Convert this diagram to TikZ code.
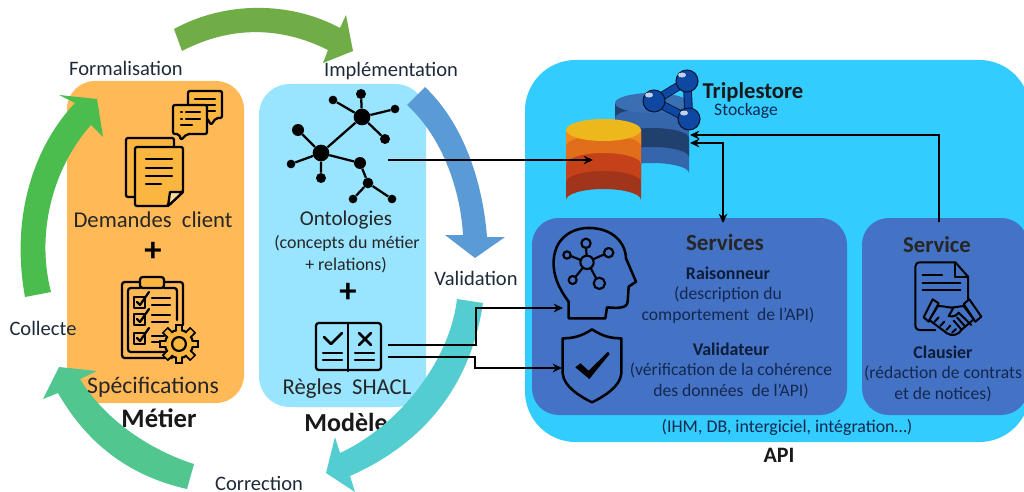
\documentclass[tikz,border=0pt]{standalone}
\usepackage{fontspec}
\setmainfont{Carlito}
\usetikzlibrary{arrows.meta}
\definecolor{orangebox}{HTML}{FFB957}
\definecolor{iconfill}{HTML}{FBB63F}
\definecolor{modelbox}{HTML}{99E4FF}
\definecolor{apibox}{HTML}{33CCFF}
\definecolor{svcbox}{HTML}{4472C4}
\definecolor{txtdark}{HTML}{1E2A3A}
\definecolor{txtnavy}{HTML}{14284F}
\definecolor{arrA}{HTML}{70AD47}
\definecolor{arrB}{HTML}{5B9BD5}
\definecolor{arrC}{HTML}{53CDCF}
\definecolor{arrD}{HTML}{51C68F}
\definecolor{arrE}{HTML}{4BBD4F}
\definecolor{sph}{HTML}{0F48A3}
\definecolor{dbblue}{HTML}{3566AB}
\definecolor{dbdark}{HTML}{20416E}
\definecolor{dbtop}{HTML}{3A6FB3}
\definecolor{dbora}{HTML}{A0351B}
\definecolor{dborb}{HTML}{C4411A}
\definecolor{dborc}{HTML}{E16E1B}
\definecolor{dbord}{HTML}{F08A1C}
\definecolor{dbore}{HTML}{EDB81C}
\tikzset{
  x=0.75pt,y=-0.75pt,
  lab/.style={font=\fontsize{15.4}{17}\selectfont,text=txtdark,inner sep=0pt,anchor=center},
  big/.style={font=\fontsize{17}{19}\selectfont,text=black!85,inner sep=0pt,anchor=center},
  mid/.style={font=\fontsize{15.8}{18}\selectfont,text=black!85,inner sep=0pt,anchor=center},
  small/.style={font=\fontsize{13.4}{15}\selectfont,text=black!85,inner sep=0pt,anchor=center},
  svc/.style={font=\fontsize{13.2}{15}\selectfont,text=txtnavy,inner sep=0pt,anchor=center},
  svcb/.style={font=\bfseries\fontsize{13.4}{15}\selectfont,text=txtnavy!70!black,inner sep=0pt,anchor=center},
  head/.style={font=\bfseries\fontsize{17.3}{19}\selectfont,text=black!85,inner sep=0pt,anchor=center},
  title/.style={font=\bfseries\fontsize{20}{22}\selectfont,text=black!90,inner sep=0pt,anchor=center},
  plus/.style={font=\bfseries\fontsize{26}{26}\selectfont,text=black,inner sep=0pt,anchor=center},
  link/.style={line width=1.2pt,black,-{Stealth[length=7pt,width=6.5pt]}},
  dlink/.style={line width=1.2pt,black,{Stealth[length=7pt,width=6.5pt]}-{Stealth[length=7pt,width=6.5pt]}},
  icon/.style={line width=1.7pt,black,line cap=round,line join=round},
  iconw/.style={icon,fill=iconfill},
  gnode/.style={circle,fill=black,inner sep=0pt},
  gedge/.style={line width=1.7pt,black},
  sphere/.style={circle,fill=sph,draw=black!70!sph,line width=.8pt,minimum size=16.5pt,inner sep=0pt},
}
\begin{document}
\begin{tikzpicture}
\clip (0,0) rectangle (1024,492);
\fill[white] (0,0) rectangle (1024,492);
% boxes
\fill[orangebox,rounded corners=21pt] (67,81) rectangle (244,403);
\fill[modelbox,rounded corners=23pt] (259,84) rectangle (426,407);
\fill[apibox,rounded corners=38pt] (525,60) rectangle (1030,442);
\fill[svcbox,rounded corners=20pt] (532,218) rectangle (847,415);
\fill[svcbox,rounded corners=20pt] (862,218) rectangle (1028,415);

% labels under arrows
\node[title] (metier) at (159,418) {Métier};
\node[title,font=\bfseries\fontsize{19.5}{22}\selectfont] (modele) at (346,422) {Modèle};
\node[title,font=\bfseries\fontsize{16.5}{18}\selectfont] (api) at (779,455) {API};

% arrows of the cycle
\fill[arrA] (174,29) .. controls (225,1) and (290,1) .. (340,28) -- (346,15) -- (353,51) -- (323,63) -- (328,50) .. controls (280,26) and (230,26) .. (182,51) -- cycle;
\fill[arrB] (425,87) .. controls (465,125) and (483,185) .. (487,237) -- (505,237) -- (475,258) -- (445,235) -- (463,235) .. controls (460,185) and (440,135) .. (407,105) -- cycle;
\fill[arrC] (483,303) .. controls (470,390) and (420,445) .. (350,476) -- (355,492) -- (326,473) -- (335,437) -- (340,453) .. controls (400,425) and (450,360) .. (457,299) -- cycle;
\fill[arrD] (187,489) .. controls (125,475) and (85,440) .. (58,393) -- (43,399) -- (59,367) -- (97,371) -- (80,379) .. controls (105,420) and (150,450) .. (194,464) -- cycle;
\fill[arrE] (25,297) .. controls (10,215) and (35,145) .. (75,103) -- (59,95) -- (97,99) -- (103,137) -- (91,125) .. controls (55,165) and (35,230) .. (51,292) -- cycle;

% text
\node[lab] (formal) at (126,68) {Formalisation};
\node[lab] (implem) at (391,71) {Implémentation};
\node[lab] (collec) at (43,328) {Collecte};
\node[lab] (valid) at (476,278) {Validation};
\node[lab] (correc) at (259,483.5) {Correction};
\node[big] (demandes) at (153,220) {Demandes\ \ client};
\node[plus] (plusa) at (153,252) {+};
\node[big,font=\fontsize{17.8}{19}\selectfont] (specs) at (153,387) {Spécifications};
\node[mid] (onto) at (346,219.5) {Ontologies};
\node[small] (ontob) at (347,243) {(concepts du métier};
\node[small] (ontoc) at (346,265) {+ relations)};
\node[plus] (plusb) at (348,293) {+};
\node[big] (regles) at (347,389) {Règles\ \ SHACL};
\node[title,font=\bfseries\fontsize{17}{19}\selectfont] (triple) at (753,92) {Triplestore};
\node[svc] (stock) at (746,111) {Stockage};
\node[head] (services) at (725,242) {Services};
\node[head,font=\bfseries\fontsize{17}{19}\selectfont] (service) at (937,245) {Service};
\node[svcb] (rais) at (728,273) {Raisonneur};
\node[svc] (raisb) at (728,294) {(description du};
\node[svc] (raisc) at (728,315) {comportement\ \ de l’API)};
\node[svcb] (vali) at (731,349) {Validateur};
\node[svc] (valib) at (731,370) {(vérification de la cohérence};
\node[svc] (valic) at (731,391) {des données\ \ de l’API)};
\node[svcb] (claus) at (943,352) {Clausier};
\node[svc] (clausb) at (943,373) {(rédaction de contrats};
\node[svc] (clausc) at (943,394) {et de notices)};
\node[svc,font=\fontsize{13.4}{15}\selectfont] (ihm) at (787,427) {(IHM, DB, intergiciel, intégration…)};

% blue database
\fill[dbblue] (615,103) -- (615,173) arc[start angle=180,end angle=360,x radius=37,y radius=10] -- (689,103) -- cycle;
\fill[dbdark] (615,103) -- (615,118) arc[start angle=180,end angle=360,x radius=37,y radius=10] -- (689,103) -- cycle;
\fill[dbdark] (615,138) arc[start angle=180,end angle=360,x radius=37,y radius=10] -- (689,157) arc[start angle=360,end angle=180,x radius=37,y radius=10] -- cycle;
\fill[dbtop] (652,103) ellipse[x radius=37,y radius=10];
% orange database
\fill[dbora] (566,130) -- (566,200) arc[start angle=180,end angle=360,x radius=37.5,y radius=11] -- (641,130) -- cycle;
\fill[dborb] (566,130) -- (566,182) arc[start angle=180,end angle=360,x radius=37.5,y radius=11] -- (641,130) -- cycle;
\fill[dborc] (566,130) -- (566,164) arc[start angle=180,end angle=360,x radius=37.5,y radius=11] -- (641,130) -- cycle;
\fill[dbord] (566,130) -- (566,146) arc[start angle=180,end angle=360,x radius=37.5,y radius=11] -- (641,130) -- cycle;
\fill[dbore] (603.5,130) ellipse[x radius=37.5,y radius=11];
% triple store logo
\draw[black!60!sph,line width=6.5pt,line join=round] (654,101) -- (687,81) -- (689,119) -- cycle;
\draw[sph,line width=5pt,line join=round] (654,101) -- (687,81) -- (689,119) -- cycle;
\node[sphere] (sa) at (654,101) {};
\node[sphere] (sb) at (687,81) {};
\node[sphere] (sc) at (689,119) {};
\fill[white!75!sph] (649,95) ellipse[x radius=4,y radius=2.5];
\fill[white!75!sph] (682,75) ellipse[x radius=4,y radius=2.5];
\fill[white!75!sph] (684,113) ellipse[x radius=4,y radius=2.5];

% chat bubbles
\draw[iconw,rounded corners=1.5pt] (188,91) -- (222,91) -- (222,118) -- (216,118) -- (211,125) -- (207,118) -- (188,118) -- cycle;
\draw[icon] (195,99) -- (215,99) (200,105) -- (215,105) (207,111) -- (215,111);
\draw[iconw,rounded corners=1.5pt] (173,105) -- (207,105) -- (207,134) -- (187,134) -- (181,140) -- (179,134) -- (173,134) -- cycle;
\draw[icon] (181,112) -- (182,112) (186,112) -- (200,112) (181,119) -- (182,119) (186,119) -- (200,119) (181,125) -- (192,125);
% documents
\draw[iconw,rounded corners=1.5pt] (126,138) -- (174,138) -- (174,197) -- (126,197) -- cycle;
\draw[iconw,rounded corners=1.5pt] (135,147) -- (183,147) -- (183,192) -- (168,206) -- (135,206) -- cycle;
\draw[icon,fill=iconfill!50!white] (183,192) -- (170,192) -- (168,206) -- cycle;
\draw[icon] (146,159) -- (172,159) (146,168) -- (172,168) (146,176) -- (172,176) (146,184) -- (161,184);
% clipboard
\draw[icon,rounded corners=2pt] (140,282) -- (122,282) -- (122,358) -- (172,358);
\draw[icon,rounded corners=2pt] (164,282) -- (183,282) -- (183,325);
\draw[icon,rounded corners=2pt] (140,288) -- (128,288) -- (128,352) -- (166,352);
\draw[icon,rounded corners=2pt] (164,288) -- (177,288) -- (177,320);
\draw[iconw,rounded corners=2pt] (140,277) rectangle (164,288);
\foreach \yy in {302,319,338}{
  \draw[icon] (134,\yy-5) rectangle (145,\yy+6);
  \draw[icon] (137,\yy) -- (140,\yy+3) -- (149,\yy-10);
}
\draw[icon] (152,298) -- (170,298) (152,305) -- (170,305) (152,315) -- (170,315) (152,322) -- (168,322) (152,336) -- (164,336) (152,342) -- (160,342);
% gear
\node[inner sep=0pt,minimum size=0pt] (gearc) at (179,344) {};
\foreach \a in {0,45,...,315}{
  \fill[black] (gearc) ++(\a:9pt) ++(\a+90:3.2pt) -- ++(\a-90:6.4pt) -- ++(\a:6pt) -- ++(\a+90:6.4pt) -- cycle;
}
\foreach \a in {0,45,...,315}{
  \fill[iconfill] (gearc) ++(\a:9pt) ++(\a+90:1.8pt) -- ++(\a-90:3.6pt) -- ++(\a:4.8pt) -- ++(\a+90:3.6pt) -- cycle;
}
\draw[line width=1.6pt,black,fill=iconfill] (gearc) circle[radius=10.5pt];
\foreach \a in {0,45,...,315}{
  \fill[iconfill] (gearc) ++(\a:8.5pt) ++(\a+90:1.8pt) -- ++(\a-90:3.6pt) -- ++(\a:4pt) -- ++(\a+90:3.6pt) -- cycle;
}
\draw[line width=1.6pt,black] (gearc) circle[radius=5.2pt];

% molecule
\node[gnode,minimum size=12.5pt] (hubA) at (362,117) {};
\node[gnode,minimum size=12.5pt] (hubB) at (321,153) {};
\node[gnode,minimum size=6.5pt] (ga) at (333,100) {};
\node[gnode,minimum size=7.5pt] (gb) at (361,94) {};
\node[gnode,minimum size=6.5pt] (gc) at (395,109) {};
\node[gnode,minimum size=7.5pt] (gd) at (385,139) {};
\node[gnode,minimum size=9pt] (ge) at (298,130) {};
\node[gnode,minimum size=6.5pt] (gf) at (291,164) {};
\node[gnode,minimum size=7.5pt] (gg) at (321,178) {};
\node[gnode,minimum size=9pt] (gh) at (360,163) {};
\node[gnode,minimum size=8pt] (gi) at (368,183) {};
\node[gnode,minimum size=6.5pt] (gj) at (353,199) {};
\node[gnode,minimum size=6.5pt] (gk) at (392,199) {};
\draw[gedge] (hubA)--(hubB) (hubA)--(ga) (hubA)--(gb) (hubA)--(gc) (hubA)--(gd)
  (hubB)--(ge) (hubB)--(gf) (hubB)--(gg) (hubB)--(gh) (gh)--(gi) (gi)--(gj) (gi)--(gk);

% book
\draw[icon,rounded corners=2pt] (316,323) rectangle (381,370);
\draw[icon] (348,323) -- (348,371);
\draw[line width=2pt,black,line cap=round,line join=round] (324,337) -- (331,344) -- (342,333);
\draw[line width=2pt,black,line cap=round] (359,333) -- (371,345) (371,333) -- (359,345);
\draw[icon] (323,353) -- (342,353) (323,360) -- (342,360) (355,353) -- (374,353) (355,360) -- (374,360);

% connectors
\coordinate (fromOnto) at (388,160);
\coordinate (toOrange) at (593,160);
\coordinate (fromRulesA) at (388,345);
\coordinate (fromRulesB) at (388,357);
\coordinate (toBrain) at (563,308);
\coordinate (toShield) at (562,368);
\coordinate (storeA) at (690,135);
\coordinate (storeB) at (690,143);
\coordinate (svcA) at (723,223);
\coordinate (svcB) at (939,222);
\draw[link] (fromOnto) -- (toOrange);
\draw[link] (fromRulesA) -| (476,308) -- (toBrain);
\draw[link] (fromRulesB) -| (475,368) -- (toShield);
\draw[dlink] (storeB) -| (svcA);
\draw[link] (svcB) |- (storeA);

% head with network
\begin{scope}[shift={(512,230)},x=.25pt,y=-.25pt]
\draw[icon,line width=1.9pt] (170,265) -- (170,215) .. controls (140,175) and (122,135) .. (125,90) .. controls (130,20) and (185,-8) .. (235,-6) .. controls (300,-4) and (340,35) .. (342,85) -- (372,155) -- (350,170) -- (347,215) .. controls (345,235) and (320,235) .. (285,232) -- (280,265) -- cycle;
\draw[icon,line width=1.6pt] (225,97) circle[radius=20] (222,40) circle[radius=14] (290,68) circle[radius=14] (165,75) circle[radius=11] (182,150) circle[radius=12] (262,160) circle[radius=17];
\draw[icon,line width=1.6pt] (224,77) -- (222,54) (243,88) -- (277,73) (206,90) -- (176,78) (213,113) -- (190,141) (236,114) -- (253,146);
% shield
\draw[icon,line width=1.9pt] (240,298) .. controls (210,318) and (185,325) .. (152,325) -- (152,430) .. controls (155,470) and (205,500) .. (240,517) .. controls (275,500) and (325,470) .. (328,430) -- (328,325) .. controls (295,325) and (270,318) .. (240,298) -- cycle;
\fill[black] (190,412) -- (205,400) -- (230,422) -- (288,365) -- (293,372) -- (232,447) -- cycle;
% contract
\draw[icon,line width=1.5pt] (1270,300) -- (1225,300) .. controls (1215,300) and (1210,295) .. (1210,285) -- (1210,110) .. controls (1210,102) and (1215,97) .. (1225,97) -- (1330,97) -- (1368,140) -- (1368,215);
\draw[icon,line width=1.5pt] (1330,97) -- (1330,140) -- (1368,140);
\draw[icon,line width=1.5pt] (1232,135) -- (1290,135) (1232,158) -- (1345,158) (1232,180) -- (1345,180);
% handshake
\draw[icon,fill=svcbox,line width=1.5pt] (1262,208) -- (1280,220) -- (1250,275) -- (1235,262) -- cycle;
\draw[icon,fill=svcbox,line width=1.5pt] (1372,208) -- (1355,222) -- (1390,275) -- (1408,260) -- cycle;
\draw[icon,fill=svcbox,line width=1.5pt] (1278,228) .. controls (1300,228) and (1315,235) .. (1325,232) -- (1355,228) -- (1385,268) -- (1350,298) .. controls (1340,315) and (1320,320) .. (1305,310) -- (1252,270) -- cycle;
\draw[icon,line width=1.5pt] (1325,232) -- (1310,258) .. controls (1325,262) and (1335,255) .. (1340,248) -- (1378,285);
\draw[icon,line width=1.5pt] (1268,275) -- (1280,262) (1285,288) -- (1297,275) (1303,300) -- (1315,287) (1320,308) -- (1332,297) (1335,262) -- (1360,290) (1325,272) -- (1348,298);
\end{scope}
\end{tikzpicture}
\end{document}
